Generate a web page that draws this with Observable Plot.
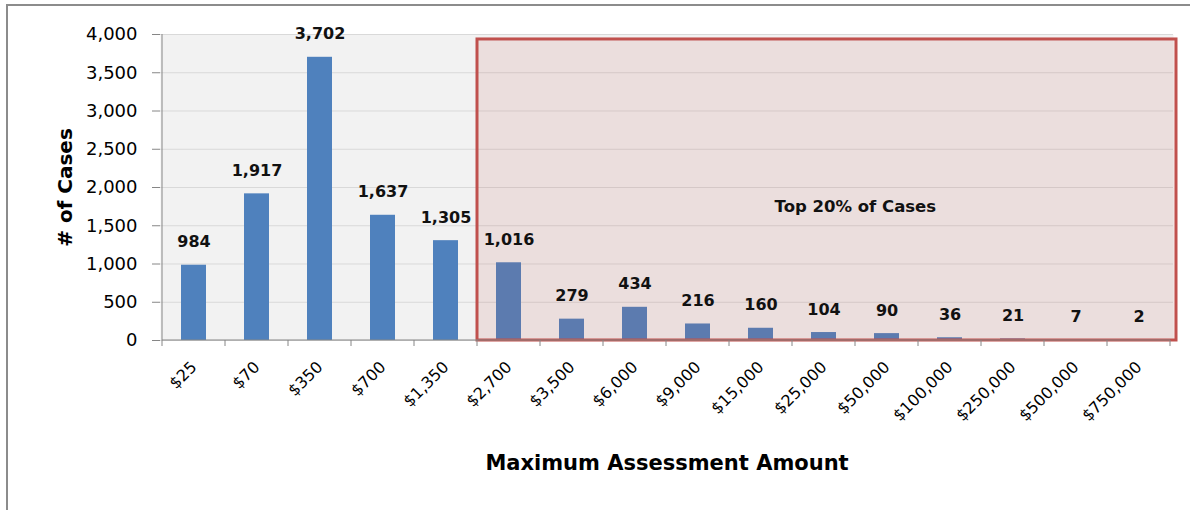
<!DOCTYPE html>
<html>
<head>
<meta charset="utf-8">
<script src="https://cdn.jsdelivr.net/npm/d3@7"></script>
<script src="https://cdn.jsdelivr.net/npm/@observablehq/plot@0.6"></script>
<style>
  html, body { margin: 0; padding: 0; background: #ffffff; }
  #wrap { position: relative; width: 1190px; height: 510px; overflow: hidden; }
  #border { position: absolute; left: 6px; top: 4px; width: 1250px; height: 560px;
            border-top: 2px solid #8c8c8c; border-left: 2px solid #8c8c8c; pointer-events: none; }
  #chart { position: absolute; left: 0; top: 0; }
</style>
</head>
<body>
<div id="wrap"><div id="chart"></div><div id="border"></div></div>
<script>
// ---- data ----
const categories = ["$25", "$70", "$350", "$700", "$1,350", "$2,700", "$3,500", "$6,000",
  "$9,000", "$15,000", "$25,000", "$50,000", "$100,000", "$250,000", "$500,000", "$750,000"];
const cases = [984, 1917, 3702, 1637, 1305, 1016, 279, 434, 216, 160, 104, 90, 36, 21, 7, 2];
const yTicks = [0, 500, 1000, 1500, 2000, 2500, 3000, 3500, 4000];
const highlightRange = ["$2,700", "$750,000"];
const highlightTop = 3935;
const highlightLabel = ["Top 20% of Cases"];
const highlightLabelAt = ["$50,000"];
const highlightLabelValue = 1752;
const yTitle = "# of Cases";
const xTitle = "Maximum Assessment Amount";

const data = categories.map((c, i) => ({category: c, cases: cases[i]}));
const fmt = d3.format(",");

const W = 1190, H = 510;
const mL = 160, mR = 17, mT = 34, mB = 170;
const stepPx = (W - mL - mR) / categories.length;

const FONT = "DejaVu Sans, Verdana, sans-serif";
const AXIS = "#868686";
const RED = "#c0504d";

// custom mark: axis lines, boundary ticks on x axis
function axisLines(index, scales) {
  const x = scales.x, y = scales.y;
  const bw = x.bandwidth();
  const step = x(categories[1]) - x(categories[0]);
  const half = (step - bw) / 2;
  const g = d3.create("svg:g");
  const y0 = y(0), yTop = y(yTicks[yTicks.length - 1]);
  const xl = x(categories[0]) - half;
  const xr = x(categories[categories.length - 1]) + bw + half;
  g.append("line").attr("x1", xl).attr("x2", xl).attr("y1", yTop).attr("y2", y0)
    .attr("stroke", AXIS).attr("stroke-width", 1);
  g.append("line").attr("x1", xl).attr("x2", xr).attr("y1", y0).attr("y2", y0)
    .attr("stroke", AXIS).attr("stroke-width", 1);
  const bounds = categories.map(c => x(c) - half).concat([xr]);
  for (const b of bounds) {
    g.append("line").attr("x1", b).attr("x2", b).attr("y1", y0).attr("y2", y0 + 6)
      .attr("stroke", AXIS).attr("stroke-width", 1);
  }
  return g.node();
}

// custom mark: highlighted region rectangle
function highlightBox(index, scales) {
  const x = scales.x, y = scales.y;
  const bw = x.bandwidth();
  const step = x(categories[1]) - x(categories[0]);
  const half = (step - bw) / 2;
  const x1 = x(highlightRange[0]) - half;
  const x2 = x(highlightRange[1]) + bw + half + 6;
  const y1 = y(highlightTop), y2 = y(0);
  return d3.create("svg:rect")
    .attr("x", x1).attr("y", y1).attr("width", x2 - x1).attr("height", y2 - y1)
    .attr("fill", RED).attr("fill-opacity", 0.12)
    .attr("stroke", RED).attr("stroke-width", 3)
    .node();
}

const chart = Plot.plot({
  width: W, height: H,
  marginLeft: mL, marginRight: mR, marginTop: mT, marginBottom: mB,
  style: {fontFamily: FONT, background: "transparent", color: "#000"},
  x: {domain: categories, paddingInner: 0.6, paddingOuter: 0.3, label: null},
  y: {domain: [0, 4000], label: null},
  marks: [
    Plot.frame({fill: "#f2f2f2", stroke: null}),
    Plot.gridY(yTicks, {stroke: "#d9d9d9", strokeOpacity: 1, strokeWidth: 1}),
    Plot.barY(data, {x: "category", y: "cases", fill: "#4f81bd"}),
    highlightBox,
    axisLines,
    Plot.text(data, {x: "category", y: "cases", text: d => fmt(d.cases), dy: -23,
      fontSize: 16, fontWeight: "bold", fill: "#111", lineAnchor: "middle"}),
    Plot.text(highlightLabel, {x: () => highlightLabelAt[0], y: () => highlightLabelValue,
      text: d => d, dx: -stepPx / 2, fontSize: 16.5, fontWeight: "bold", fill: "#111"}),
    Plot.axisY({ticks: yTicks, tickFormat: fmt, tickSize: 8, tickPadding: 15,
      fontSize: 18, stroke: AXIS, label: null}),
    Plot.axisX({tickSize: 0, tickPadding: 24, tickRotate: -45, fontSize: 16, dx: 0, label: null}),
    Plot.text([yTitle], {frameAnchor: "left", dx: -95, rotate: -90, fontSize: 20,
      fontWeight: "bold", fill: "#000", textAnchor: "middle"}),
    Plot.text([xTitle], {frameAnchor: "bottom", dy: 123, fontSize: 21,
      fontWeight: "bold", fill: "#000", lineAnchor: "middle"})
  ]
});
document.getElementById("chart").appendChild(chart);
</script>
</body>
</html>
